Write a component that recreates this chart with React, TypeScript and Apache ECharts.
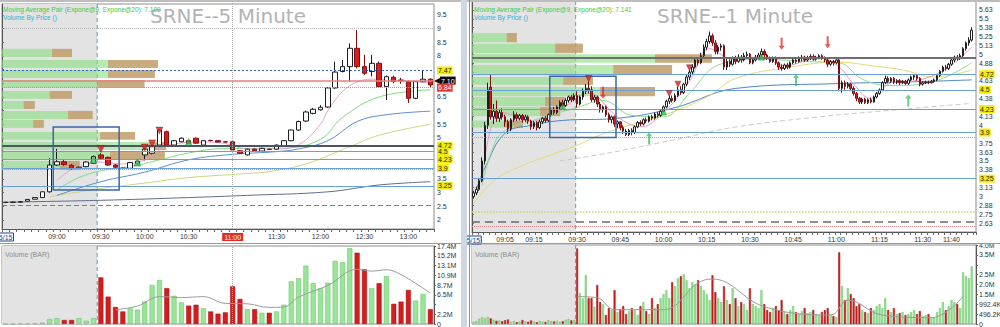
import React, { useEffect, useRef } from "react";
import * as echarts from "echarts";

type Candle = [number, number, number, number]; // open, close, low, high
type Pt = [string, number];

// builds HH:MM category labels for a session
function clock(start: string, count: number, step: number): string[] {
  const [h, m] = start.split(":").map(Number);
  const out: string[] = [];
  for (let i = 0; i < count; i++) {
    const t = h * 60 + m + i * step;
    out.push(String(Math.floor(t / 60)).padStart(2, "0") + ":" + String(t % 60).padStart(2, "0"));
  }
  return out;
}

const FONT = "'Liberation Sans', Arial, sans-serif";

// ---------------- 5 minute session ----------------
const times5 = clock("08:25", 59, 5);
const tickLabels5 = ["08:25", "09:00", "09:30", "10:00", "10:30", "11:00", "11:30", "12:00", "12:30", "13:00"];

const candles5: Candle[] = [
  [2.64, 2.65, 2.63, 2.66], [2.65, 2.65, 2.64, 2.67], [2.65, 2.67, 2.64, 2.68], [2.69, 2.75, 2.68, 2.76],
  [2.76, 2.82, 2.75, 2.83], [2.82, 3.03, 2.8, 3.05], [3.03, 4.01, 3.0, 4.26], [4.01, 4.13, 3.98, 4.6],
  [4.13, 4.03, 3.98, 4.22], [4.0, 3.87, 3.84, 4.05], [3.88, 3.93, 3.86, 3.96], [3.95, 4.12, 3.93, 4.15],
  [4.07, 4.32, 4.05, 4.36], [4.38, 4.26, 4.2, 4.45], [4.29, 4.01, 3.98, 4.32], [4.01, 3.93, 3.9, 4.05],
  [3.9, 3.88, 3.86, 3.92], [3.89, 4.1, 3.88, 4.12], [4.05, 4.15, 4.03, 4.18], [4.38, 4.59, 4.18, 4.62],
  [4.44, 4.68, 4.4, 4.72], [4.74, 5.29, 4.7, 5.32], [5.23, 4.74, 4.7, 5.27], [4.74, 4.9, 4.72, 4.93],
  [4.86, 4.99, 4.84, 5.02], [4.9, 4.8, 4.78, 4.93], [4.99, 4.81, 4.79, 5.02], [4.74, 4.9, 4.72, 4.92],
  [4.91, 4.9, 4.88, 4.93], [4.9, 4.85, 4.83, 4.92], [4.86, 4.85, 4.83, 4.88], [4.86, 4.56, 4.54, 4.88],
  [4.53, 4.44, 4.42, 4.56], [4.38, 4.59, 4.36, 4.61], [4.59, 4.53, 4.51, 4.61], [4.52, 4.62, 4.5, 4.64],
  [4.59, 4.58, 4.56, 4.6], [4.59, 4.74, 4.57, 4.76], [4.71, 4.9, 4.7, 4.92], [4.9, 5.29, 4.88, 5.31],
  [5.29, 5.6, 5.27, 5.63], [5.62, 5.95, 5.58, 6.0], [5.9, 6.05, 5.86, 6.1], [6.03, 6.12, 6.0, 6.2],
  [6.13, 6.83, 6.1, 6.86], [6.83, 7.41, 6.8, 7.79], [7.43, 7.61, 7.4, 7.85], [7.61, 8.28, 7.06, 8.46],
  [8.28, 7.61, 7.55, 8.95], [7.61, 7.37, 7.3, 8.04], [7.43, 7.73, 7.25, 8.04], [7.73, 6.88, 6.85, 7.8],
  [6.88, 7.24, 6.39, 7.28], [7.22, 7.06, 7.0, 7.28], [7.12, 7.1, 6.98, 7.2], [7.06, 6.45, 6.28, 7.1],
  [6.45, 7.06, 6.42, 7.08], [7.06, 7.15, 7.04, 7.49], [7.15, 6.94, 6.85, 7.18],
];

// millions of shares
const volume5 = [
  0.05, 0.05, 0.08, 0.1, 0.15, 0.3, 1.1, 1.3, 0.9, 0.9, 1.3, 0.7, 1.3,
  10.4, 6.1, 3.8, 2.8, 3.5, 3.2, 5.0, 8.7, 9.8, 8.0, 6.3, 4.8, 4.1, 4.3, 3.5, 2.8, 2.3, 2.6,
  8.4, 5.6, 3.3, 3.3, 2.5, 2.5, 2.8, 4.3, 9.5, 10.2, 13.0, 9.1, 8.0, 9.2, 14.1, 13.8, 16.9,
  15.9, 12.2, 8.0, 9.1, 10.7, 4.5, 5.0, 7.6, 5.2, 6.7, 3.3,
];

const volAvg5: Pt[] = [
  ["09:40", 3.2], ["09:55", 4.0], ["10:10", 6.1], ["10:25", 5.9], ["10:40", 6.1], ["10:55", 4.6],
  ["11:10", 4.5], ["11:25", 3.7], ["11:35", 3.8], ["11:45", 6.0], ["12:05", 8.6], ["12:25", 12.2],
  ["12:35", 11.8], ["12:45", 12.1], ["12:55", 11.0], ["13:15", 6.9],
];

const slowAvg5: Pt[] = [["08:25", 2.65], ["09:30", 2.72], ["10:30", 2.82], ["11:10", 2.9], ["12:05", 3.03], ["12:40", 3.28], ["13:15", 3.4]];
const olivAvg5: Pt[] = [["08:55", 2.85], ["09:30", 3.15], ["10:00", 3.35], ["10:30", 3.55], ["11:10", 3.7], ["11:25", 3.77], ["11:50", 4.05], ["12:20", 4.68], ["12:40", 5.1], ["13:15", 5.5]];
const blueAvg5: Pt[] = [["09:00", 2.9], ["09:30", 3.4], ["10:00", 3.75], ["10:30", 4.2], ["11:00", 4.4], ["11:30", 4.5], ["11:45", 4.6], ["12:05", 4.9], ["12:25", 5.6], ["12:45", 5.85], ["13:15", 5.98]];
const greenAvg5: Pt[] = [["09:00", 3.1], ["09:15", 3.55], ["09:30", 3.8], ["09:50", 3.95], ["10:10", 4.2], ["10:30", 4.45], ["10:50", 4.6], ["11:10", 4.62], ["11:35", 4.63], ["12:00", 4.95], ["12:15", 5.75], ["12:40", 6.5], ["13:15", 6.76]];
const pinkAvg5: Pt[] = [["09:00", 3.45], ["09:10", 3.85], ["09:20", 4.02], ["09:30", 4.12], ["09:45", 4.05], ["10:00", 4.2], ["10:10", 4.55], ["10:20", 4.78], ["10:40", 4.85], ["10:55", 4.8], ["11:10", 4.6], ["11:30", 4.6], ["11:45", 4.75], ["12:00", 5.5], ["12:05", 6.0], ["12:15", 6.7], ["12:25", 7.05], ["12:35", 7.15], ["12:50", 7.1], ["13:15", 7.02]];

const upTri5: Pt[] = [["09:25", 4.2], ["09:55", 4.1], ["10:30", 4.85]];
const downTri5: Pt[] = [["09:30", 4.6], ["10:00", 4.65], ["10:05", 4.8], ["10:10", 5.27]];

// volume-by-price rows: [buy share %, sell share %, low, high]
const vbp5 = [
  [11.6, 4.6, 7.96, 8.26], [24.5, 11.6, 7.56, 7.85], [24.5, 10.9, 7.19, 7.49], [22.0, 11.0, 6.83, 7.12],
  [11.0, 5.2, 6.43, 6.72], [5.0, 2.6, 6.06, 6.35], [15.3, 5.7, 5.69, 5.99], [7.2, 2.5, 5.37, 5.66],
  [22.7, 8.1, 4.93, 5.22], [34.0, 4.0, 4.56, 4.85], [25.0, 12.7, 4.19, 4.49], [13.4, 4.6, 3.83, 4.16],
];

// ---------------- 1 minute session ----------------
const times1 = clock("08:54", 175, 1);
const tickLabels1 = ["08:54", "09:05", "09:15", "09:30", "09:45", "10:00", "10:15", "10:30", "10:45", "11:00", "11:15", "11:30", "11:40"];

const candles1: Candle[] = [
  [3.0, 3.05, 2.97, 3.08], [3.05, 3.1, 3.02, 3.14], [3.1, 3.22, 3.08, 3.25], [3.22, 3.5, 3.2, 3.55],
  [3.5, 4.0, 3.45, 4.05], [4.0, 4.5, 3.95, 4.6], [4.54, 4.12, 4.08, 4.71], [4.12, 4.2, 4.02, 4.3],
  [4.2, 4.1, 4.05, 4.35], [4.1, 4.18, 4.05, 4.22], [4.18, 4.12, 4.08, 4.24], [4.12, 4.05, 3.98, 4.15],
  [4.05, 3.95, 3.88, 4.08], [3.95, 4.08, 3.92, 4.1], [4.08, 4.15, 4.05, 4.2], [4.15, 4.1, 4.06, 4.18],
  [4.1, 4.14, 4.07, 4.16], [4.14, 4.08, 4.04, 4.16], [4.08, 4.12, 4.05, 4.15], [4.12, 4.06, 4.02, 4.14],
  [4.06, 3.98, 3.94, 4.08], [3.98, 4.04, 3.95, 4.06], [4.04, 3.97, 3.93, 4.06], [3.97, 4.05, 3.95, 4.08],
  [4.05, 4.1, 4.02, 4.12], [4.1, 4.07, 4.04, 4.13], [4.07, 4.15, 4.05, 4.17], [4.15, 4.22, 4.12, 4.25],
  [4.22, 4.18, 4.15, 4.26], [4.18, 4.26, 4.16, 4.28], [4.26, 4.32, 4.22, 4.35], [4.32, 4.28, 4.24, 4.36],
  [4.28, 4.35, 4.26, 4.38], [4.35, 4.4, 4.32, 4.42], [4.4, 4.36, 4.33, 4.43], [4.36, 4.42, 4.34, 4.45],
  [4.42, 4.3, 4.25, 4.48], [4.3, 4.4, 4.28, 4.42], [4.4, 4.48, 4.36, 4.52], [4.48, 4.52, 4.44, 4.58],
  [4.52, 4.5, 4.45, 4.62], [4.5, 4.36, 4.33, 4.55], [4.36, 4.4, 4.32, 4.43], [4.4, 4.3, 4.26, 4.42],
  [4.3, 4.22, 4.18, 4.33], [4.22, 4.26, 4.18, 4.28], [4.26, 4.15, 4.12, 4.28], [4.15, 4.08, 4.04, 4.18],
  [4.08, 4.12, 4.03, 4.14], [4.12, 4.02, 3.98, 4.14], [4.02, 4.05, 3.96, 4.07], [4.05, 3.97, 3.93, 4.06],
  [3.97, 3.92, 3.88, 4.0], [3.92, 3.87, 3.85, 3.95], [3.87, 3.93, 3.85, 3.95], [3.93, 3.9, 3.86, 3.96],
  [3.9, 3.98, 3.88, 4.0], [3.98, 4.04, 3.96, 4.06], [4.04, 4.02, 3.99, 4.07], [4.02, 4.08, 4.0, 4.1],
  [4.08, 4.06, 4.03, 4.11], [4.06, 4.12, 4.04, 4.14], [4.12, 4.1, 4.07, 4.15], [4.1, 4.16, 4.08, 4.18],
  [4.16, 4.14, 4.11, 4.19], [4.14, 4.2, 4.12, 4.22], [4.2, 4.26, 4.18, 4.28], [4.26, 4.34, 4.24, 4.36],
  [4.34, 4.38, 4.3, 4.42], [4.38, 4.35, 4.32, 4.42], [4.35, 4.42, 4.33, 4.45], [4.42, 4.5, 4.4, 4.54],
  [4.5, 4.46, 4.43, 4.55], [4.46, 4.58, 4.44, 4.6], [4.58, 4.68, 4.55, 4.72], [4.68, 4.75, 4.64, 4.78],
  [4.75, 4.82, 4.72, 4.86], [4.82, 4.92, 4.8, 4.95], [4.92, 4.88, 4.84, 4.96], [4.88, 4.98, 4.86, 5.02],
  [4.98, 5.1, 4.95, 5.14], [5.1, 5.18, 5.06, 5.22], [5.18, 5.26, 5.15, 5.32], [5.26, 5.16, 5.12, 5.29],
  [5.16, 5.04, 5.0, 5.2], [5.04, 5.1, 5.0, 5.13], [5.1, 5.12, 5.05, 5.15], [5.12, 4.82, 4.78, 5.14],
  [4.82, 4.9, 4.78, 4.94], [4.9, 4.86, 4.82, 4.93], [4.86, 4.94, 4.84, 4.97], [4.94, 4.9, 4.86, 4.98],
  [4.9, 4.96, 4.88, 5.0], [4.96, 4.92, 4.88, 4.99], [4.92, 4.98, 4.9, 5.02], [4.98, 5.0, 4.95, 5.04],
  [5.0, 4.88, 4.86, 5.02], [4.88, 4.92, 4.86, 4.95], [4.92, 4.96, 4.9, 4.99], [4.96, 4.99, 4.93, 5.02],
  [4.99, 5.04, 4.96, 5.08], [5.04, 4.99, 4.96, 5.07], [4.99, 4.94, 4.92, 5.01], [4.94, 4.9, 4.88, 4.97],
  [4.9, 4.95, 4.88, 4.97], [4.95, 4.88, 4.85, 4.97], [4.88, 4.82, 4.78, 4.9], [4.82, 4.8, 4.77, 4.86],
  [4.8, 4.85, 4.78, 4.87], [4.85, 4.82, 4.79, 4.88], [4.82, 4.88, 4.8, 4.9], [4.88, 4.92, 4.86, 4.95],
  [4.92, 4.9, 4.87, 4.95], [4.9, 4.94, 4.88, 4.97], [4.94, 4.96, 4.9, 4.99], [4.96, 4.92, 4.89, 4.98],
  [4.92, 4.95, 4.9, 4.98], [4.95, 4.97, 4.92, 5.0], [4.97, 4.93, 4.91, 5.0], [4.93, 4.96, 4.91, 4.98],
  [4.96, 4.98, 4.93, 5.0], [4.98, 4.95, 4.92, 5.0], [4.95, 4.92, 4.89, 4.97], [4.92, 4.86, 4.82, 4.94],
  [4.86, 4.9, 4.84, 4.92], [4.9, 4.88, 4.84, 4.92], [4.88, 4.92, 4.86, 4.94], [4.92, 4.52, 4.48, 4.94],
  [4.52, 4.6, 4.46, 4.63], [4.6, 4.55, 4.5, 4.63], [4.55, 4.58, 4.52, 4.61], [4.58, 4.52, 4.49, 4.6],
  [4.52, 4.45, 4.42, 4.55], [4.45, 4.38, 4.34, 4.47], [4.38, 4.33, 4.3, 4.4], [4.33, 4.37, 4.3, 4.39],
  [4.37, 4.32, 4.3, 4.39], [4.32, 4.36, 4.3, 4.38], [4.36, 4.33, 4.31, 4.39], [4.33, 4.4, 4.32, 4.42],
  [4.4, 4.45, 4.38, 4.47], [4.45, 4.5, 4.43, 4.52], [4.5, 4.6, 4.48, 4.62], [4.6, 4.66, 4.58, 4.7],
  [4.66, 4.62, 4.59, 4.69], [4.62, 4.66, 4.6, 4.68], [4.66, 4.61, 4.58, 4.68], [4.61, 4.63, 4.58, 4.65],
  [4.63, 4.6, 4.57, 4.65], [4.6, 4.62, 4.58, 4.64], [4.62, 4.59, 4.57, 4.64], [4.59, 4.64, 4.57, 4.66],
  [4.64, 4.68, 4.62, 4.7], [4.68, 4.7, 4.64, 4.72], [4.7, 4.66, 4.63, 4.72], [4.66, 4.58, 4.55, 4.68],
  [4.58, 4.6, 4.56, 4.62], [4.6, 4.61, 4.58, 4.63], [4.61, 4.6, 4.58, 4.63], [4.6, 4.62, 4.59, 4.64],
  [4.62, 4.64, 4.6, 4.66], [4.64, 4.7, 4.62, 4.72], [4.7, 4.76, 4.68, 4.78], [4.76, 4.82, 4.74, 4.84],
  [4.82, 4.8, 4.77, 4.85], [4.8, 4.86, 4.78, 4.88], [4.86, 4.92, 4.84, 4.94], [4.92, 4.96, 4.89, 4.98],
  [4.96, 4.94, 4.91, 4.99], [4.94, 4.98, 4.92, 5.01], [4.98, 5.08, 4.96, 5.1], [5.08, 5.16, 5.05, 5.18],
  [5.16, 5.2, 5.12, 5.24], [5.2, 5.34, 5.18, 5.38],
];

// thousands of shares
const volume1 = [
  120, 150, 260, 340, 300, 360, 280, 210, 160, 170, 140, 190, 230, 110, 150, 90, 120, 200,
  140, 110, 180, 130, 90, 160, 120, 100, 190, 150, 130, 170, 110, 140, 220, 260, 180, 210,
  3800, 1560, 1300, 2460, 1300, 1300, 870, 1960, 1100, 1000, 450, 800, 700, 1700,
  600, 750, 900, 500, 650, 800, 700, 450, 900, 1100, 650, 500, 1300, 800, 1000, 1300,
  1500, 1700, 1300, 2100, 1900, 2300, 2400, 2500, 2200, 1800, 2100, 2000, 2200, 1900, 1700, 1500,
  1200, 2450, 1600, 1300, 1100, 1900, 1200, 1000, 1800, 1300, 900, 1100, 1000, 700, 1800, 1000,
  900, 800, 1700, 1000, 700, 600, 800, 900, 700, 1200, 600, 500, 700, 900, 600, 500,
  650, 800, 550, 600, 700, 500, 450, 600, 700, 800, 500, 400, 350, 3600, 1900, 1200,
  1800, 1500, 1300, 900, 1000, 700, 600, 550, 800, 700, 900, 1000, 800, 1300, 700, 600,
  800, 500, 550, 600, 450, 500, 600, 700, 500, 650, 400, 450, 500, 350, 300, 600,
  800, 1100, 700, 900, 1200, 1100, 1000, 800, 2600, 2400, 2300, 2900,
];

const volAvg1: Pt[] = [
  ["09:30", 1380], ["09:37", 1320], ["09:43", 720], ["10:00", 720], ["10:12", 2060], ["10:17", 2260],
  ["10:35", 870], ["10:58", 450], ["11:04", 1200], ["11:16", 450], ["11:33", 320], ["11:44", 1380],
];

const dashAvg1: Pt[] = [["09:24", 3.5], ["09:42", 3.62], ["10:04", 3.8], ["10:24", 3.97], ["10:54", 4.12], ["11:24", 4.23], ["11:47", 4.31]];
const blueAvg1: Pt[] = [["08:54", 2.98], ["08:58", 3.4], ["09:05", 3.89], ["09:14", 4.0], ["09:25", 4.07], ["09:44", 4.1], ["10:04", 4.25], ["10:25", 4.52], ["11:02", 4.59], ["11:24", 4.61], ["11:47", 4.64]];
const yellowAvg1: Pt[] = [["08:54", 2.9], ["09:02", 3.25], ["09:12", 3.45], ["09:22", 3.6], ["09:30", 3.72], ["09:39", 3.88], ["09:52", 4.05], ["10:04", 4.2], ["10:16", 4.42], ["10:25", 4.66], ["10:44", 4.82], ["11:00", 4.89], ["11:14", 4.83], ["11:23", 4.78], ["11:34", 4.68], ["11:47", 4.78]];
const greenAvg1: Pt[] = [["08:57", 3.15], ["09:00", 3.6], ["09:04", 3.9], ["09:14", 4.06], ["09:30", 4.25], ["09:39", 4.35], ["09:49", 4.14], ["10:00", 4.12], ["10:09", 4.45], ["10:19", 4.85], ["10:34", 4.93], ["10:49", 4.9], ["11:01", 4.88], ["11:09", 4.65], ["11:19", 4.56], ["11:34", 4.62], ["11:47", 4.88]];
const pinkAvg1: Pt[] = [["08:57", 3.2], ["09:00", 3.95], ["09:04", 4.18], ["09:14", 4.06], ["09:24", 4.22], ["09:34", 4.45], ["09:44", 4.12], ["09:52", 3.98], ["10:00", 4.18], ["10:09", 4.62], ["10:16", 5.08], ["10:24", 4.93], ["10:34", 4.96], ["10:42", 4.84], ["10:54", 4.95], ["11:01", 4.82], ["11:06", 4.58], ["11:12", 4.38], ["11:19", 4.6], ["11:29", 4.64], ["11:39", 4.82], ["11:47", 5.1]];

const upTri1: Pt[] = [["09:25", 4.26], ["10:00", 4.19], ["10:34", 4.96]];
const downTri1: Pt[] = [["09:34", 4.66], ["10:02", 4.45], ["10:05", 4.58], ["10:09", 4.81]];
const downArrow1: Pt[] = [["09:39", 4.46], ["10:41", 5.15], ["10:57", 5.17]];
const upArrow1: Pt[] = [["09:55", 3.82], ["10:46", 4.64], ["11:25", 4.35]];

const vbp1 = [
  [6.9, 2.0, 5.17, 5.3], [16.5, 5.5, 5.02, 5.15], [36.3, 11.3, 4.88, 5.0], [28.0, 11.7, 4.72, 4.85],
  [18.1, 5.9, 4.57, 4.68], [25.4, 10.9, 4.41, 4.54], [14.5, 4.0, 4.27, 4.4], [13.5, 4.0, 4.13, 4.26],
  [6.5, 3.6, 3.97, 4.07],
];

// ---------------- styling helpers ----------------
const LEVEL_BLUE = "#6b9fd8";
const VOL_UP = "#98e698";
const VOL_UP_EDGE = "#5fbf5f";
const VOL_DOWN = "#d81c1c";
const VOL_DOWN_EDGE = "#9c1010";

interface HLine { value: number; color: string; type: any; width: number; label?: string; bg?: string; fg?: string; arrow?: boolean; hidden?: boolean; small?: boolean }

function hLineItem(l: HLine) {
  let label: any = { show: false };
  const fs = l.small ? 6.5 : 7;
  if (l.label) {
    label = l.arrow
      ? {
          show: true, position: "end", distance: 0, offset: l.small ? [0, -2] : [0, 0],
          formatter: "{a|◀}{b|" + l.label + "}",
          rich: { a: { color: l.bg, fontSize: fs + 1, padding: [0, 0, 0, 0] }, b: { color: l.fg || "#fff", backgroundColor: l.bg, fontSize: fs, padding: l.small ? [0, 1, 0, 1] : [1, 1, 0, 1] } },
        }
      : { show: true, position: "end", distance: 3, formatter: l.label, fontSize: fs, color: l.fg || "#222", backgroundColor: l.bg || "#f2f000", padding: [1, 1, 0, 1] };
  }
  return { yAxis: l.value, lineStyle: { color: l.color, type: l.type, width: l.width, opacity: l.hidden ? 0 : 1 }, label };
}

function sessionItem(params: any, api: any) {
  const a = api.coord([api.value(0), 0]);
  const b = api.coord([api.value(1), 0]);
  const bw = api.size([1, 0])[0];
  const cs = params.coordSys;
  const x0 = a[0] - bw / 2;
  const x1 = b[0] + bw / 2;
  return {
    type: "group",
    children: [
      { type: "rect", shape: { x: x0, y: cs.y, width: x1 - x0, height: cs.height }, style: { fill: "#e3e3e3" } },
      { type: "line", shape: { x1, y1: cs.y, x2: x1, y2: cs.y + cs.height }, style: { stroke: "#5f9fa6", lineWidth: 1, lineDash: [4, 3] } },
    ],
  };
}

function boxItem(params: any, api: any) {
  const bw = api.size([1, 0])[0];
  const a = api.coord([api.value(0), api.value(3)]);
  const b = api.coord([api.value(1), api.value(2)]);
  return { type: "rect", shape: { x: a[0] - bw / 2, y: a[1], width: b[0] - a[0] + bw, height: b[1] - a[1] }, style: { fill: "none", stroke: "#3d66a8", lineWidth: 1.5 } };
}

function vbpItem(params: any, api: any) {
  const g = api.value(0), t = api.value(1), lo = api.value(2), hi = api.value(3);
  const a = api.coord([0, hi]);
  const b = api.coord([g, lo]);
  const c = api.coord([g + t, lo]);
  return {
    type: "group",
    children: [
      { type: "rect", shape: { x: a[0], y: a[1], width: b[0] - a[0], height: b[1] - a[1] }, style: { fill: "rgba(135,222,125,0.6)" } },
      { type: "rect", shape: { x: b[0], y: a[1], width: c[0] - b[0], height: b[1] - a[1] }, style: { fill: "rgba(190,158,105,0.85)" } },
    ],
  };
}

const ARROW_DOWN = "path://M2,0 L4,0 L4,8 L6,8 L3,12 L0,8 L2,8 Z";

interface Panel {
  times: string[]; candles: Candle[]; volume: number[]; tickLabels: string[]; tickEvery: number;
  dateLabel: string; redTime?: string;
  priceGrid: any; volGrid: any; priceAxis: any; volAxis: any; priceFmt: (v: number) => string; volFmt: (v: number) => string;
  candleWidth: number; volWidth: number; triSize: number;
  levels: HLine[]; crossTime?: string; avgs: { pts: Pt[]; color: string; dashed?: boolean }[]; volAvg: Pt[];
  vbp: number[][]; box: { from: string; to: string; low: number; high: number };
  upTri: Pt[]; downTri: Pt[]; upArrow: Pt[]; downArrow: Pt[]; volLabel: string;
}

function buildPanel(p: Panel, k: number) {
  const gP = k * 2, gV = k * 2 + 1;
  const xP = k * 3, xV = k * 3 + 1, xB = k * 3 + 2;
  const yP = k * 2, yV = k * 2 + 1;
  const openIdx = p.times.indexOf("09:30");
  const gridBase = { show: true, borderColor: "#8c8c8c", borderWidth: 1, backgroundColor: "#ffffff", outerBoundsMode: "none", containLabel: false };

  const catAxis = (gridIndex: number, labels: boolean) => ({
    type: "category", gridIndex, data: p.times, boundaryGap: true,
    axisLine: { show: labels, lineStyle: { color: "#555" } },
    axisTick: { show: labels, interval: p.tickEvery, length: 3, lineStyle: { color: "#666" } },
    axisLabel: {
      show: labels, fontSize: 7, color: "#333", margin: 4,
      interval: (i: number, v: string) => p.tickLabels.includes(v),
      formatter: (v: string) => (v === p.times[0] ? "{d|" + p.dateLabel + "}" : v === p.redTime ? "{r|" + v + "}" : v),
      rich: {
        d: { fontSize: 7, color: "#23468a", borderColor: "#23468a", borderWidth: 1, padding: [1, 1, 0, 1] },
        r: { fontSize: 7, color: "#fff", backgroundColor: "#e22a2a", padding: [1, 2, 0, 2] },
      },
    },
    splitLine: { show: false },
  });

  const grids = [{ ...gridBase, ...p.priceGrid }, { ...gridBase, ...p.volGrid }];
  const xAxes = [
    catAxis(gP, true),
    catAxis(gV, false),
    { type: "value", gridIndex: gP, min: 0, max: 100, show: false },
  ];
  const yAxes = [
    {
      type: "value", gridIndex: gP, position: "right", ...p.priceAxis,
      axisLine: { show: true, lineStyle: { color: "#555" } }, axisTick: { show: true, length: 2, lineStyle: { color: "#666" } },
      axisLabel: { fontSize: 7, color: "#333", margin: 3, showMinLabel: false, showMaxLabel: false, formatter: p.priceFmt },
      splitLine: { show: false },
    },
    {
      type: "value", gridIndex: gV, position: "right", ...p.volAxis,
      axisLine: { show: true, lineStyle: { color: "#555" } }, axisTick: { show: true, length: 2, lineStyle: { color: "#666" } },
      axisLabel: { fontSize: 7, color: "#333", margin: 3, formatter: p.volFmt },
      splitLine: { show: false },
    },
  ];

  const crossLines = p.crossTime ? [{ xAxis: p.crossTime, lineStyle: { color: "#a8a8a8", type: "dotted", width: 1 }, label: { show: false } }] : [];
  const up = (c: Candle) => c[1] >= c[0];
  const bi = [p.times.indexOf(p.box.from), p.times.indexOf(p.box.to), p.box.low, p.box.high];
  const lastVol = p.volume[p.volume.length - 1];

  const series: any[] = [
    { type: "custom", xAxisIndex: xP, yAxisIndex: yP, silent: true, z: 0, renderItem: sessionItem, data: [[0, openIdx - 1]], encode: { x: 0, y: 1 } },
    { type: "custom", xAxisIndex: xV, yAxisIndex: yV, silent: true, z: 0, renderItem: sessionItem, data: [[0, openIdx - 1]], encode: { x: 0, y: 1 } },
    { type: "custom", xAxisIndex: xB, yAxisIndex: yP, silent: true, z: 1, renderItem: vbpItem, data: p.vbp, encode: { x: [0, 1], y: [2, 3] } },
    ...p.avgs.map((a) => ({
      type: "line", xAxisIndex: xP, yAxisIndex: yP, data: a.pts, smooth: 0.4, showSymbol: false, silent: true, z: 2,
      lineStyle: { color: a.color, width: 1, type: a.dashed ? [5, 3] : "solid" },
    })),
    {
      type: "candlestick", xAxisIndex: xP, yAxisIndex: yP, data: p.candles, barWidth: p.candleWidth, z: 4,
      itemStyle: { color: "#ffffff", color0: "#da1e1e", borderColor: "#1e1e1e", borderColor0: "#7d0f0f", borderWidth: 1 },
      markLine: { silent: true, symbol: ["none", "none"], animation: false, data: [...p.levels.map(hLineItem), ...crossLines] },
    },
    { type: "custom", xAxisIndex: xP, yAxisIndex: yP, silent: true, z: 5, renderItem: boxItem, data: [bi], encode: { x: [0, 1], y: [2, 3] } },
    { type: "scatter", xAxisIndex: xP, yAxisIndex: yP, data: p.upTri, symbol: "triangle", symbolSize: p.triSize, z: 6, itemStyle: { color: "#35c552", borderColor: "#15702a", borderWidth: 0.5 } },
    { type: "scatter", xAxisIndex: xP, yAxisIndex: yP, data: p.downTri, symbol: "triangle", symbolRotate: 180, symbolSize: p.triSize, z: 6, itemStyle: { color: "#d42020", borderColor: "#7a0c0c", borderWidth: 0.5 } },
    { type: "scatter", xAxisIndex: xP, yAxisIndex: yP, data: p.downArrow, symbol: ARROW_DOWN, symbolSize: [6, 12], z: 6, itemStyle: { color: "#e23030" } },
    { type: "scatter", xAxisIndex: xP, yAxisIndex: yP, data: p.upArrow, symbol: ARROW_DOWN, symbolRotate: 180, symbolSize: [6, 12], z: 6, itemStyle: { color: "#3fc65a" } },
    {
      type: "bar", xAxisIndex: xV, yAxisIndex: yV, barWidth: p.volWidth, z: 3,
      data: p.volume.map((v, i) => ({
        value: v,
        itemStyle: up(p.candles[i]) ? { color: VOL_UP, borderColor: VOL_UP_EDGE, borderWidth: 0.5 } : { color: VOL_DOWN, borderColor: VOL_DOWN_EDGE, borderWidth: 0.5 },
      })),
      markLine: {
        silent: true, symbol: ["none", "none"], animation: false,
        data: [...crossLines, hLineItem({ value: lastVol, color: "#000", type: "solid", width: 1, hidden: true, label: p.volLabel, bg: "#0d0d0d", fg: "#fff", arrow: true, small: true })],
      },
    },
    { type: "line", xAxisIndex: xV, yAxisIndex: yV, data: p.volAvg, smooth: 0.4, showSymbol: false, silent: true, z: 4, lineStyle: { color: "#9a9a9a", width: 1 } },
  ];
  return { grids, xAxes, yAxes, series };
}

// axis ticks that sit under a level tag are left unlabeled
const near = (v: number, list: number[]) => list.some((x) => Math.abs(v - x) < 1e-6);
const covered5 = [7.5, 7, 4.5, 4];
const coveredVol5 = [4.35];
const covered1 = [4.75, 4.5, 4.25, 3.875, 3.25];
const coveredVol1 = [2977.2];

const panel5: Panel = {
  times: times5, candles: candles5, volume: volume5, tickLabels: tickLabels5, tickEvery: 0,
  dateLabel: "5/15", redTime: "11:00",
  priceGrid: { left: 2, top: 4, width: 432, height: 225 },
  volGrid: { left: 2, top: 246, width: 432, height: 78 },
  priceAxis: { min: 1.67, max: 9.9, splitNumber: 16 },
  volAxis: { min: 0, max: 17.4, interval: 2.175 },
  priceFmt: (v) => (near(v, covered5) ? "" : String(v)),
  volFmt: (v) => (v === 0 ? "0" : near(v, coveredVol5) ? "" : (Math.round(v * 10 + 1e-6) / 10).toFixed(1) + "M"),
  candleWidth: 5, volWidth: 5, triSize: 7,
  levels: [
    { value: 9.0, color: "#b8b8b8", type: "dotted", width: 1 },
    { value: 7.47, color: "#2f5fbf", type: [2, 2], width: 1, label: "7.47" },
    { value: 7.1, color: "#e68080", type: "solid", width: 1.5, label: "7.10", bg: "#0d0d0d", fg: "#fff", arrow: true },
    { value: 6.84, color: "#a0a0a0", type: "dotted", width: 1, label: "6.84", bg: "#e43030", fg: "#fff" },
    { value: 4.72, color: "#4a5666", type: "solid", width: 2, label: "4.72" },
    { value: 4.5, color: LEVEL_BLUE, type: "solid", width: 1, label: "4.5" },
    { value: 4.23, color: LEVEL_BLUE, type: "solid", width: 1, label: "4.23" },
    { value: 3.9, color: LEVEL_BLUE, type: "solid", width: 1, label: "3.9" },
    { value: 3.84, color: "#e08a8a", type: "dotted", width: 1 },
    { value: 3.25, color: LEVEL_BLUE, type: "solid", width: 1, label: "3.25" },
    { value: 2.55, color: "#b36b55", type: [5, 3], width: 1 },
  ],
  crossTime: "11:00",
  avgs: [
    { pts: slowAvg5, color: "#5c6f8c" },
    { pts: olivAvg5, color: "#cdd77a" },
    { pts: blueAvg5, color: "#5a8ed0" },
    { pts: greenAvg5, color: "#82d882" },
    { pts: pinkAvg5, color: "#e8a2cc" },
  ],
  volAvg: volAvg5, vbp: vbp5,
  box: { from: "09:00", to: "09:40", low: 3.1, high: 5.4 },
  upTri: upTri5, downTri: downTri5, upArrow: [], downArrow: [], volLabel: "3.3M",
};

const panel1: Panel = {
  times: times1, candles: candles1, volume: volume1, tickLabels: tickLabels1, tickEvery: 1,
  dateLabel: "5/15",
  priceGrid: { left: 472, top: 1, width: 504, height: 231 },
  volGrid: { left: 472, top: 245, width: 504, height: 79 },
  priceAxis: { min: 2.5, max: 5.75, interval: 0.125 },
  volAxis: { min: 0, max: 3969.6, interval: 496.2 },
  priceFmt: (v) => (near(v, covered1) ? "" : String(parseFloat(v.toFixed(2)))),
  volFmt: (v) => (v === 0 ? "0" : near(v, coveredVol1) ? "" : v < 1000 ? v.toFixed(1) + "K" : (v / 1000).toFixed(1) + "M"),
  candleWidth: 2, volWidth: 2, triSize: 6,
  levels: [
    { value: 4.95, color: "#6e6e6e", type: "solid", width: 2 },
    { value: 4.72, color: LEVEL_BLUE, type: "solid", width: 1, label: "4.72" },
    { value: 4.5, color: LEVEL_BLUE, type: "solid", width: 1, label: "4.5" },
    { value: 4.23, color: LEVEL_BLUE, type: "solid", width: 1, label: "4.23" },
    { value: 3.9, color: LEVEL_BLUE, type: "solid", width: 1, label: "3.9" },
    { value: 3.84, color: "#e08a8a", type: "dotted", width: 1 },
    { value: 3.25, color: LEVEL_BLUE, type: "solid", width: 1, label: "3.25" },
    { value: 2.78, color: "#cbd96a", type: "dotted", width: 1.5 },
    { value: 2.64, color: "#6b6b6b", type: [8, 5], width: 1.5 },
    { value: 2.58, color: "#e08a8a", type: "dotted", width: 1 },
  ],
  avgs: [
    { pts: dashAvg1, color: "#c9c9c9", dashed: true },
    { pts: blueAvg1, color: "#4f86c6" },
    { pts: yellowAvg1, color: "#e6d874" },
    { pts: greenAvg1, color: "#8fdc8f" },
    { pts: pinkAvg1, color: "#e69ac6" },
  ],
  volAvg: volAvg1, vbp: vbp1,
  box: { from: "09:21", to: "09:43", low: 3.83, high: 4.69 },
  upTri: upTri1, downTri: downTri1, upArrow: upArrow1, downArrow: downArrow1, volLabel: "2.9M",
};

function frame() {
  const txt = (x: number, y: number, text: string, fill: string, fontSize: number, extra: any = {}) => ({
    type: "text", x, y, z: 100, silent: true,
    style: { text, fill, fontSize, fontFamily: FONT, verticalAlign: "middle", ...extra },
  });
  return [
    { type: "rect", z: 90, silent: true, shape: { x: 0, y: 0, width: 1000, height: 2 }, style: { fill: "#bdbdbd" } },
    { type: "rect", z: 90, silent: true, shape: { x: 461, y: 0, width: 6, height: 327 }, style: { fill: "#cfd8e2" } },
    { type: "line", z: 90, silent: true, shape: { x1: 469.5, y1: 0, x2: 469.5, y2: 327 }, style: { stroke: "#8d8d8d" } },
    { type: "line", z: 90, silent: true, shape: { x1: 0, y1: 243.5, x2: 461, y2: 243.5 }, style: { stroke: "#9a9a9a" } },
    { type: "line", z: 90, silent: true, shape: { x1: 467, y1: 243.5, x2: 1000, y2: 243.5 }, style: { stroke: "#9a9a9a" } },
    txt(228, 16, "SRNE--5 Minute", "#b3b3b3", 20, { fontFamily: "DejaVu Sans", align: "center" }),
    txt(735, 16, "SRNE--1 Minute", "#b3b3b3", 20, { fontFamily: "DejaVu Sans", align: "center" }),
    txt(3, 9, "Moving Average Pair (Expone@9, Expone@20): 7.109", "#3acb3a", 6.5),
    txt(3, 17, "Volume By Price ()", "#2db4d8", 6.5),
    txt(474, 9, "Moving Average Pair (Expone@9, Expone@20): 7.141", "#3acb3a", 6.5),
    txt(474, 17, "Volume By Price ()", "#2db4d8", 6.5),
    txt(5, 254, "Volume (BAR)", "#8a8a8a", 7),
    txt(475, 254, "Volume (BAR)", "#8a8a8a", 7),
  ];
}

function buildOption() {
  const a = buildPanel(panel5, 0);
  const b = buildPanel(panel1, 1);
  return {
    animation: false,
    backgroundColor: "#ffffff",
    textStyle: { fontFamily: FONT },
    grid: [...a.grids, ...b.grids],
    xAxis: [...a.xAxes, ...b.xAxes],
    yAxis: [...a.yAxes, ...b.yAxes],
    series: [...a.series, ...b.series],
    graphic: frame(),
  };
}

export default function App() {
  const ref = useRef<HTMLDivElement>(null);
  useEffect(() => {
    document.body.style.margin = "0";
    const el = ref.current;
    if (!el) return;
    const chart = echarts.init(el, undefined, { renderer: "svg" });
    chart.setOption(buildOption() as any);
    return () => chart.dispose();
  }, []);
  return <div ref={ref} style={{ width: 1000, height: 327, background: "#fff" }} />;
}
